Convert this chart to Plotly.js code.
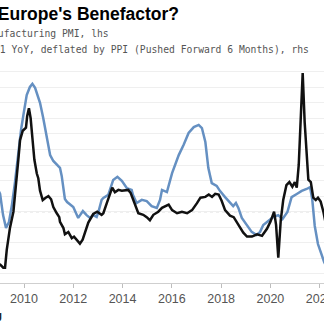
<!DOCTYPE html>
<html>
<head>
<meta charset="utf-8">
<script src="https://cdn.plot.ly/plotly-3.0.1.min.js"></script>
<style>
html,body{margin:0;padding:0;background:#fff;overflow:hidden;}
#chart{width:324px;height:325px;}
</style>
</head>
<body>
<div id="chart"></div>
<script>
// Manufacturing PMI (lhs) - black line
const pmiDates = [2008.86,2009.03,2009.16,2009.23,2009.30,2009.43,2009.57,2009.70,2009.77,2009.84,2009.95,
2010.08,2010.13,2010.20,2010.27,2010.34,2010.38,2010.42,2010.52,2010.58,2010.65,2010.76,2010.88,2010.99,
2011.10,2011.19,2011.33,2011.43,2011.46,2011.60,2011.66,2011.80,2011.87,2011.94,
2012.03,2012.14,2012.27,2012.38,2012.48,2012.61,2012.81,2012.97,
2013.15,2013.22,2013.36,2013.49,2013.58,2013.69,2013.83,2013.97,
2014.10,2014.23,2014.33,2014.46,2014.64,2014.84,2014.98,
2015.11,2015.25,2015.45,2015.60,2015.87,
2016.01,2016.21,2016.41,2016.62,2016.82,
2017.02,2017.16,2017.36,2017.50,2017.63,2017.76,2017.90,
2018.02,2018.16,2018.36,2018.51,2018.69,2018.90,
2019.05,2019.25,2019.46,2019.66,2019.86,
2020.00,2020.15,2020.23,2020.32,2020.42,2020.52,2020.65,2020.77,2020.89,2020.99,
2021.07,2021.15,2021.23,2021.31,2021.39,2021.46,2021.54,2021.64,2021.74,2021.84,2021.93,
2022.04,2022.15,2022.34];
const pmiValues = [43.5,43.2,42.8,42.8,45.1,47.9,50.0,53.8,56.7,59.2,60.4,
60.8,62.3,63.3,62.0,59.5,57.4,56.7,54.9,54.3,52.7,51.5,51.8,52.0,
51.6,50.6,49.8,49.3,48.7,47.9,47.1,47.4,47.0,46.6,
46.8,46.4,45.9,46.4,47.4,48.6,49.7,50.0,
49.6,49.8,51.1,52.4,53.1,52.5,52.8,52.7,
52.8,52.8,52.4,51.3,49.8,49.6,49.3,
48.9,49.6,50.0,50.5,50.9,
50.2,49.8,50.0,49.8,50.2,
51.1,51.8,51.9,52.2,51.9,52.3,52.2,
51.4,50.2,49.5,49.3,48.4,47.3,
46.8,46.8,47.1,46.9,47.8,
48.7,50.0,48.3,44.1,48.9,51.5,53.4,53.8,53.2,53.8,
53.1,56.0,61.5,67.8,61.5,57.3,54.1,53.8,51.8,51.5,51.8,
51.3,50.0,47.0];

// M1 YoY, deflated by PPI, pushed forward 6 months (rhs) - blue line
const m1Dates = [2008.86,2009.03,2009.15,2009.27,2009.39,2009.51,2009.63,2009.77,2009.88,2009.97,
2010.11,2010.24,2010.34,2010.45,2010.58,2010.65,2010.78,2010.85,2010.92,
2011.06,2011.19,2011.33,2011.46,2011.53,2011.59,2011.66,2011.75,2011.94,
2012.00,2012.20,2012.39,2012.54,2012.68,2012.81,2012.95,
2013.02,2013.15,2013.22,2013.36,2013.42,2013.62,2013.79,2013.97,
2014.17,2014.37,2014.42,2014.57,2014.78,2014.98,
2015.18,2015.39,2015.52,2015.60,2015.80,
2016.01,2016.28,2016.48,2016.68,2016.89,
2017.09,2017.22,2017.36,2017.48,2017.62,2017.82,2017.95,
2018.16,2018.36,2018.49,2018.60,2018.70,2018.84,
2019.04,2019.24,2019.44,2019.58,2019.71,2019.91,
2020.12,2020.32,2020.49,2020.69,2020.86,
2021.07,2021.27,2021.47,2021.61,2021.70,2021.80,2021.93,
2022.07,2022.18,2022.34];
const m1Values = [8.6,5.7,-1.1,-5.2,-3.3,2.2,9.2,19.8,26.3,30.8,
37.5,40.1,41.1,39.8,36.6,35.0,30.1,27.2,23.7,
18.2,16.3,15.0,14.1,11.5,8.6,4.1,3.1,1.8,
1.5,-2.0,0.2,-1.1,-2.0,-1.1,-1.7,
-0.1,3.8,4.4,5.1,5.4,10.2,11.2,9.9,
7.6,7.0,5.4,2.8,3.8,3.4,
1.8,1.2,3.8,7.0,6.3,
12.4,18.2,21.5,25.3,27.2,
27.9,26.9,22.4,14.1,9.2,8.3,6.7,
4.7,3.1,1.8,2.8,1.2,-2.0,
-4.3,-6.5,-7.5,-6.5,-4.3,-3.0,
-1.7,-1.1,-2.4,-0.1,4.7,
5.7,6.7,7.3,7.9,3.8,-4.6,-10.4,
-13.9,-16.2,-18.7];

const tickYears = [2010,2012,2014,2016,2018,2020,2022];
const tickLabels = ["2010","2012","2014","2016","2018","2020","2022"];

const titleText = "China's M1: Europe's Benefactor?";
const legendPMI = "Euro-Area Manufacturing PMI, lhs";
const legendM1 = "China M1 YoY, deflated by PPI (Pushed Forward 6 Months), rhs";

const traces = [
  {x: m1Dates, y: m1Values, type: 'scatter', mode: 'lines', yaxis: 'y',
   line: {color: '#6590c2', width: 2.5}, name: legendM1, hoverinfo: 'skip'},
  {x: pmiDates, y: pmiValues, type: 'scatter', mode: 'lines', yaxis: 'y2',
   line: {color: '#111111', width: 2.5}, name: legendPMI, hoverinfo: 'skip'}
];

const layout = {
  width: 324, height: 325,
  margin: {l: 0, r: 0, t: 56, b: 42, pad: 0},
  paper_bgcolor: '#ffffff', plot_bgcolor: '#ffffff',
  showlegend: false,
  font: {family: 'Liberation Sans, Arial, sans-serif', color: '#555'},
  title: {text: titleText, font: {family: 'Liberation Sans, Arial, sans-serif', size: 17.5, color: '#000', weight: 'bold'},
          x: 179/324, xanchor: 'right', xref: 'paper', y: 1 - 13.5/325, yanchor: 'middle', yref: 'container'},
  xaxis: {range: [2009.026, 2022.175], tickvals: tickYears, ticktext: tickLabels,
          showgrid: false, zeroline: false, showline: true, linecolor: '#cfcfcf', linewidth: 1,
          ticks: 'outside', ticklen: 4, tickcolor: '#bdbdbd', tickwidth: 1,
          ticklabeloverflow: 'allow',
          tickfont: {size: 12.5, color: '#555'}, fixedrange: true},
  yaxis: {range: [-22.93, 50.06], dtick: 5, tick0: 0, side: 'right', showticklabels: false,
          showgrid: true, gridcolor: '#efefef', gridwidth: 1, zeroline: false, ticks: '', fixedrange: true},
  yaxis2: {range: [40.84, 70.0], overlaying: 'y', side: 'left', showticklabels: false,
           showgrid: false, zeroline: false, ticks: '', fixedrange: true},
  shapes: [{type: 'line', xref: 'paper', x0: 0, x1: 1, yref: 'y2', y0: 50, y1: 50,
            line: {color: '#a8a8a8', width: 1, dash: '3px,3px'}, layer: 'below'}],
  annotations: [
    {text: legendPMI, xref: 'paper', yref: 'paper', x: 111/324, y: (283-33.5)/227,
     xanchor: 'right', yanchor: 'middle', showarrow: false,
     font: {family: 'DejaVu Sans Mono, Liberation Mono, monospace', size: 9.7, color: '#555'}},
    {text: legendM1, xref: 'paper', yref: 'paper', x: 311/324, y: (283-49)/227,
     xanchor: 'right', yanchor: 'middle', showarrow: false,
     font: {family: 'DejaVu Sans Mono, Liberation Mono, monospace', size: 9.7, color: '#555'}},
    {text: '<b>Bloomberg</b>', xref: 'paper', yref: 'paper', x: 4/324, y: (283-315)/227,
     xanchor: 'right', yanchor: 'middle', showarrow: false,
     font: {family: 'Liberation Sans, Arial, sans-serif', size: 11, color: '#222'}}
  ]
};

Plotly.newPlot('chart', traces, layout, {staticPlot: true, displayModeBar: false});
</script>
</body>
</html>
